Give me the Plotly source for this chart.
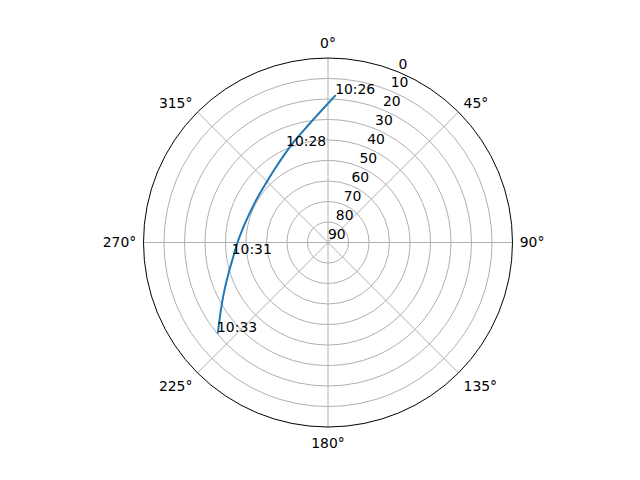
import plotly.graph_objects as go

# satellite pass track, azimuth (deg, clockwise from north) / elevation (deg)
azimuth = [3.0, 357.3, 350.4, 342.2, 333.3, 323.2, 312.1, 300.5, 289.0,
           278.2, 268.3, 259.5, 251.9, 245.3, 239.5, 234.4, 230.4]
elevation = [18.0, 25.4, 32.0, 37.6, 42.3, 46.0, 48.4, 49.3, 49.1,
             47.7, 45.4, 42.5, 38.7, 34.4, 29.8, 24.9, 20.2]

# time labels along the track (left/middle anchor of each label)
label_times = ["10:26", "10:28", "10:31", "10:33"]
label_az = [2.7, 337.3, 265.4, 232.2]
label_el = [15.6, 37.0, 42.9, 21.5]

# elevation rings, labelled along the 22.5 deg direction
radial_ticks = [0, 10, 20, 30, 40, 50, 60, 70, 80, 90]
radial_label_az = 22.5

angular_ticks = [0, 45, 90, 135, 180, 225, 270, 315]

FONT = dict(family="DejaVu Sans", size=13.9, color="black")
GRID = "#b0b0b0"

fig = go.Figure()

# track line
fig.add_trace(go.Scatterpolar(
    r=elevation,
    theta=azimuth,
    mode="lines",
    line=dict(color="#1f77b4", width=2, shape="spline", smoothing=0.8),
    hoverinfo="skip",
    showlegend=False,
))

# time labels
fig.add_trace(go.Scatterpolar(
    r=label_el,
    theta=label_az,
    mode="text",
    text=label_times,
    textposition="middle right",
    textfont=FONT,
    hoverinfo="skip",
    showlegend=False,
))

# radial tick labels (matplotlib style, up-right of each ring)
fig.add_trace(go.Scatterpolar(
    r=radial_ticks,
    theta=[radial_label_az] * len(radial_ticks),
    mode="text",
    text=[str(v) for v in radial_ticks],
    textposition="top right",
    textfont=FONT,
    cliponaxis=False,
    hoverinfo="skip",
    showlegend=False,
))

fig.update_layout(
    width=624,
    height=464,
    margin=dict(l=72.3, r=55.7, t=49.8, b=45.2),
    paper_bgcolor="white",
    font=FONT,
    polar=dict(
        bgcolor="white",
        radialaxis=dict(
            range=[90, 0],
            tickvals=radial_ticks,
            showticklabels=False,
            showline=False,
            ticks="",
            gridcolor=GRID,
            gridwidth=1,
        ),
        angularaxis=dict(
            rotation=90,
            direction="clockwise",
            tickmode="array",
            tickvals=angular_ticks,
            ticktext=[f"{a}°" for a in angular_ticks],
            ticks="outside",
            ticklen=4,
            tickcolor="rgba(0,0,0,0)",
            showline=True,
            linecolor="black",
            linewidth=1,
            gridcolor=GRID,
            gridwidth=1,
            tickfont=FONT,
        ),
    ),
)

fig.write_html("out.html")
